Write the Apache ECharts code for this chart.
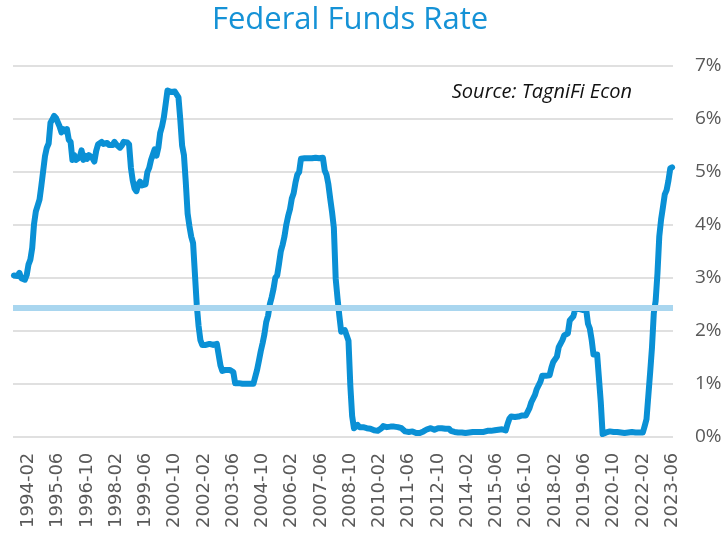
<!DOCTYPE html>
<html>
<head>
<meta charset="utf-8">
<script src="https://cdn.jsdelivr.net/npm/echarts@6/dist/echarts.min.js"></script>
<style>
html,body{margin:0;padding:0;background:#fff;}
#chart{width:725px;height:535px;}
</style>
</head>
<body>
<div id="chart"></div>
<script>
// ---- data ----
const titleText = "Federal Funds Rate";
const sourceText = "Source: TagniFi Econ";
const startYear = 1993, startMonth = 6;      // first month shown
const firstLabelIndex = 8;                   // 1994-02
const labelEvery = 16;                       // months between tick labels
const averageRate = 2.43;                    // horizontal average line (%)

const rates = [
  // 1993 Jun-Dec
  3.04, 3.06, 3.03, 3.09, 2.99, 3.02, 2.96,
  // 1994
  3.05, 3.25, 3.34, 3.56, 4.01, 4.25, 4.26, 4.47, 4.73, 4.76, 5.29, 5.45,
  // 1995
  5.53, 5.92, 5.98, 6.05, 6.01, 6.00, 5.85, 5.74, 5.80, 5.76, 5.80, 5.60,
  // 1996
  5.56, 5.22, 5.31, 5.22, 5.24, 5.27, 5.40, 5.22, 5.30, 5.24, 5.31, 5.29,
  // 1997
  5.25, 5.19, 5.39, 5.51, 5.50, 5.56, 5.52, 5.54, 5.54, 5.50, 5.52, 5.50,
  // 1998
  5.56, 5.51, 5.49, 5.45, 5.49, 5.56, 5.54, 5.55, 5.51, 5.07, 4.83, 4.68,
  // 1999
  4.63, 4.76, 4.81, 4.74, 4.74, 4.76, 4.99, 5.07, 5.22, 5.20, 5.42, 5.30,
  // 2000
  5.45, 5.73, 5.85, 6.02, 6.27, 6.53, 6.54, 6.50, 6.52, 6.51, 6.51, 6.40,
  // 2001
  5.98, 5.49, 5.31, 4.80, 4.21, 3.97, 3.77, 3.65, 3.07, 2.49, 2.09, 1.82,
  // 2002
  1.73, 1.74, 1.73, 1.75, 1.75, 1.75, 1.73, 1.74, 1.75, 1.75, 1.34, 1.24,
  // 2003
  1.24, 1.26, 1.25, 1.26, 1.26, 1.22, 1.01, 1.03, 1.01, 1.01, 1.00, 0.98,
  // 2004
  1.00, 1.01, 1.00, 1.00, 1.00, 1.03, 1.26, 1.43, 1.61, 1.76, 1.93, 2.16,
  // 2005
  2.28, 2.50, 2.63, 2.79, 3.00, 3.04, 3.26, 3.50, 3.62, 3.78, 4.00, 4.16,
  // 2006
  4.29, 4.49, 4.59, 4.79, 4.94, 4.99, 5.24, 5.25, 5.25, 5.25, 5.25, 5.24,
  // 2007
  5.25, 5.26, 5.26, 5.25, 5.25, 5.25, 5.26, 5.02, 4.94, 4.76, 4.49, 4.24,
  // 2008
  3.94, 2.98, 2.61, 2.28, 1.98, 2.00, 2.01, 2.00, 1.81, 0.97, 0.39, 0.16,
  // 2009
  0.15, 0.22, 0.18, 0.15, 0.18, 0.21, 0.16, 0.16, 0.15, 0.12, 0.12, 0.12,
  // 2010
  0.11, 0.13, 0.16, 0.20, 0.20, 0.18, 0.18, 0.19, 0.19, 0.19, 0.19, 0.18,
  // 2011
  0.17, 0.16, 0.14, 0.10, 0.09, 0.09, 0.07, 0.10, 0.08, 0.07, 0.08, 0.07,
  // 2012
  0.08, 0.10, 0.13, 0.14, 0.16, 0.16, 0.16, 0.13, 0.14, 0.16, 0.16, 0.16,
  // 2013
  0.14, 0.15, 0.14, 0.15, 0.11, 0.09, 0.09, 0.08, 0.08, 0.09, 0.08, 0.09,
  // 2014
  0.07, 0.07, 0.08, 0.09, 0.09, 0.10, 0.09, 0.09, 0.09, 0.09, 0.09, 0.12,
  // 2015
  0.11, 0.11, 0.11, 0.12, 0.12, 0.13, 0.13, 0.14, 0.14, 0.12, 0.12, 0.24,
  // 2016
  0.34, 0.38, 0.36, 0.37, 0.37, 0.38, 0.39, 0.40, 0.40, 0.40, 0.41, 0.54,
  // 2017
  0.65, 0.66, 0.79, 0.90, 0.91, 1.04, 1.15, 1.16, 1.15, 1.15, 1.16, 1.30,
  // 2018
  1.41, 1.42, 1.51, 1.69, 1.70, 1.82, 1.91, 1.91, 1.95, 2.19, 2.20, 2.27,
  // 2019
  2.40, 2.40, 2.41, 2.42, 2.39, 2.38, 2.40, 2.13, 2.04, 1.83, 1.55, 1.55,
  // 2020
  1.55, 1.58, 0.65, 0.05, 0.05, 0.08, 0.09, 0.10, 0.09, 0.09, 0.09, 0.09,
  // 2021
  0.09, 0.08, 0.07, 0.07, 0.06, 0.08, 0.10, 0.09, 0.08, 0.08, 0.08, 0.08,
  // 2022
  0.08, 0.08, 0.20, 0.33, 0.77, 1.21, 1.68, 2.33, 2.56, 3.08, 3.78, 4.10,
  // 2023 Jan-Jun
  4.33, 4.57, 4.65, 4.83, 5.06, 5.08
];

// month categories (YYYY-MM), one per value
const months = [];
for (let i = 0; i < rates.length; i++) {
  const m0 = startMonth - 1 + i;
  const y = startYear + Math.floor(m0 / 12);
  const m = (m0 % 12) + 1;
  months.push(y + "-" + (m < 10 ? "0" + m : "" + m));
}

const chart = echarts.init(document.getElementById('chart'), null, {renderer: 'canvas'});
chart.setOption({
  animation: false,
  backgroundColor: '#ffffff',
  graphic: [
    {
      type: 'text', x: 350, y: 20,
      style: {
        text: titleText, fill: '#1592D6',
        font: '31px "Open Sans", sans-serif',
        textAlign: 'center', textVerticalAlign: 'middle'
      }
    },
    {
      type: 'text', x: 632, y: 92,
      style: {
        text: sourceText, fill: '#111111',
        font: 'italic 20px "Open Sans", sans-serif',
        textAlign: 'right', textVerticalAlign: 'middle'
      }
    }
  ],
  grid: { left: 13, right: 52, top: 65.5, bottom: 98.3, containLabel: false },
  xAxis: {
    type: 'category',
    data: months,
    boundaryGap: true,
    axisLine: { show: false },
    axisTick: { show: false },
    splitLine: { show: false },
    axisLabel: {
      rotate: 90,
      margin: 16,
      color: '#595959',
      fontFamily: '"DejaVu Sans", sans-serif',
      fontSize: 18,
      interval: function (index) {
        return index >= firstLabelIndex && (index - firstLabelIndex) % labelEvery === 0;
      }
    }
  },
  yAxis: {
    type: 'value',
    position: 'right',
    min: 0, max: 7, interval: 1,
    axisLine: { show: false },
    axisTick: { show: false },
    axisLabel: {
      formatter: '{value}%',
      margin: 22,
      color: '#595959',
      fontFamily: '"Open Sans", sans-serif',
      fontSize: 19
    },
    splitLine: { lineStyle: { color: '#D6D6D6', width: 1.5 } }
  },
  series: [
    {
      type: 'line',
      name: 'Average',
      data: [],
      z: 1,
      silent: true,
      markLine: {
        silent: true,
        symbol: ['none', 'none'],
        label: { show: false },
        lineStyle: { color: '#A9D6EF', width: 6, type: 'solid' },
        emphasis: { disabled: true },
        data: [{ yAxis: averageRate }]
      }
    },
    {
      type: 'line',
      name: 'Federal Funds Rate',
      data: rates,
      z: 3,
      showSymbol: false,
      symbol: 'none',
      lineStyle: { color: '#0A90D5', width: 6, join: 'round', cap: 'round' }
    }
  ]
});
</script>
</body>
</html>
